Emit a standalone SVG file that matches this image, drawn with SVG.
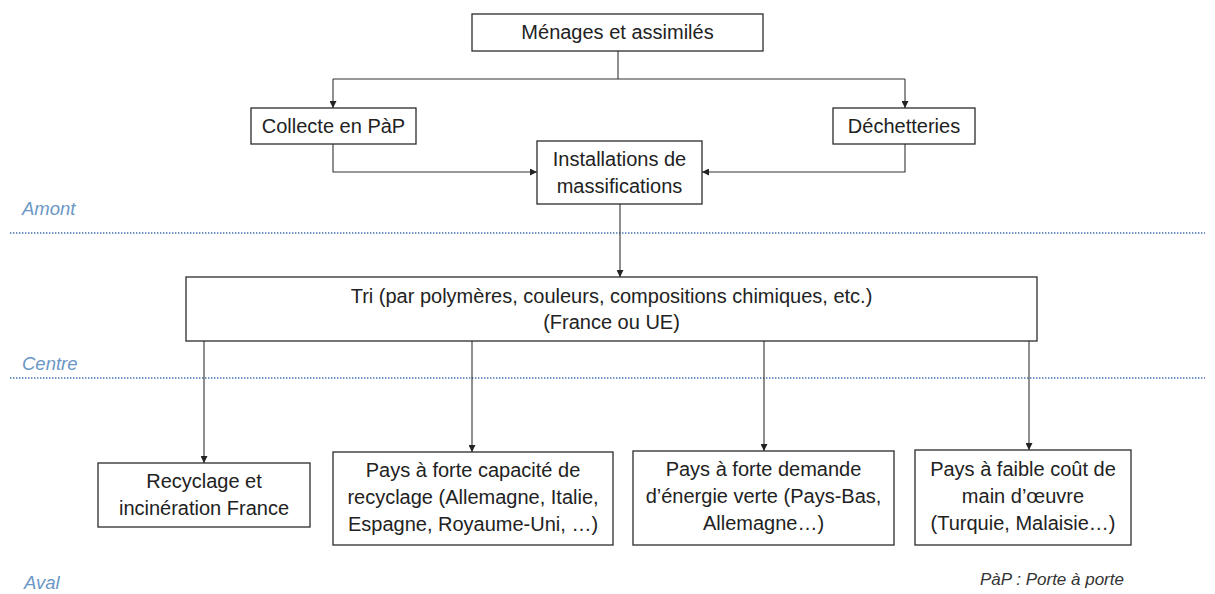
<svg xmlns="http://www.w3.org/2000/svg" width="1215" height="594" viewBox="0 0 1215 594">
<style>
.box{fill:#fff;stroke:#2b2b2b;stroke-width:1.3}
.t{font-family:"Liberation Sans",Arial,sans-serif;font-size:20px;fill:#222;text-anchor:middle}
.c{fill:none;stroke:#333;stroke-width:1.1}
.zone{font-family:"Liberation Sans",Arial,sans-serif;font-size:18.5px;font-style:italic;fill:#6b97c6}
.sep{stroke:#3f6fb0;stroke-width:1.6;stroke-dasharray:1.4 1.6;fill:none}
.note{font-family:"Liberation Sans",Arial,sans-serif;font-size:17px;font-style:italic;fill:#333}
</style>
<defs>
<marker id="ah" viewBox="0 0 10 10" refX="10" refY="5" markerWidth="7" markerHeight="7" markerUnits="userSpaceOnUse" orient="auto">
<path d="M0,0 L10,5 L0,10 z" fill="#222"/>
</marker>
</defs>
<rect width="1215" height="594" fill="#fff"/>
<g id="zones">
<line class="sep" x1="10" y1="233" x2="1205" y2="233"/>
<line class="sep" x1="10" y1="378" x2="1205" y2="378"/>
<text class="zone" x="22" y="215">Amont</text>
<text class="zone" x="22" y="370">Centre</text>
<text class="zone" x="24" y="589">Aval</text>
<text class="note" x="980" y="585">PàP : Porte à porte</text>
</g>
<g id="connectors">
<path class="c" d="M618,51 V79"/>
<path class="c" d="M333,79 H905"/>
<path class="c" d="M333,79 V108" marker-end="url(#ah)"/>
<path class="c" d="M905,79 V108" marker-end="url(#ah)"/>
<path class="c" d="M333,144 V172 H537" marker-end="url(#ah)"/>
<path class="c" d="M905,144 V172 H702" marker-end="url(#ah)"/>
<path class="c" d="M620,204 V277" marker-end="url(#ah)"/>
<path class="c" d="M204,341 V463" marker-end="url(#ah)"/>
<path class="c" d="M472,341 V452" marker-end="url(#ah)"/>
<path class="c" d="M764,341 V451" marker-end="url(#ah)"/>
<path class="c" d="M1029,341 V450" marker-end="url(#ah)"/>
</g>
<g id="menages">
<rect class="box" x="472" y="14" width="291" height="37"/>
<text class="t" x="617.5" y="39">Ménages et assimilés</text>
</g>
<g id="collecte">
<rect class="box" x="251" y="108" width="165" height="36"/>
<text class="t" x="333.5" y="133">Collecte en PàP</text>
</g>
<g id="dechetteries">
<rect class="box" x="833" y="108" width="142" height="36"/>
<text class="t" x="904" y="133">Déchetteries</text>
</g>
<g id="installations">
<rect class="box" x="537" y="141" width="165" height="63"/>
<text class="t" x="619.5" y="166">Installations de</text>
<text class="t" x="619.5" y="193">massifications</text>
</g>
<g id="tri">
<rect class="box" x="186" y="277" width="851" height="64"/>
<text class="t" x="611.5" y="303">Tri (par polymères, couleurs, compositions chimiques, etc.)</text>
<text class="t" x="611.5" y="329">(France ou UE)</text>
</g>
<g id="recyclage-france">
<rect class="box" x="98" y="463" width="212" height="64"/>
<text class="t" x="204" y="488">Recyclage et</text>
<text class="t" x="204" y="515">incinération France</text>
</g>
<g id="forte-capacite">
<rect class="box" x="333" y="452" width="280" height="93"/>
<text class="t" x="473" y="477">Pays à forte capacité de</text>
<text class="t" x="473" y="504">recyclage (Allemagne, Italie,</text>
<text class="t" x="473" y="531">Espagne, Royaume-Uni, …)</text>
</g>
<g id="energie-verte">
<rect class="box" x="633" y="451" width="261" height="94"/>
<text class="t" x="763.5" y="476">Pays à forte demande</text>
<text class="t" x="763.5" y="503">d’énergie verte (Pays-Bas,</text>
<text class="t" x="763.5" y="530">Allemagne…)</text>
</g>
<g id="faible-cout">
<rect class="box" x="915" y="450" width="216" height="95"/>
<text class="t" x="1023" y="476">Pays à faible coût de</text>
<text class="t" x="1023" y="503">main d’œuvre</text>
<text class="t" x="1023" y="530">(Turquie, Malaisie…)</text>
</g>
</svg>
